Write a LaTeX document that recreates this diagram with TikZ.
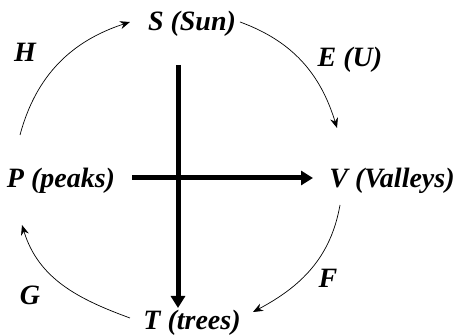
\documentclass[tikz,border=0pt]{standalone}
\usepackage{fontspec}
\setmainfont{Liberation Serif}
\usetikzlibrary{arrows.meta}
\tikzset{
	lbl/.style={font=\fontsize{28}{30}\selectfont\bfseries\itshape, inner sep=0pt},
	cycle/.style={-{Stealth[length=10pt,width=8pt]}, line width=.7pt},
	bold/.style={-{Triangle[length=12pt,width=14pt]}, line width=5pt}
}
\begin{document}
\begin{tikzpicture}[x=1pt,y=1pt]
	\useasboundingbox (0,0) rectangle (456,336);
	\node[lbl] (sun) at (192,312){S (Sun)};
	\node[lbl] (peaks) at (61,155){P (peaks)};
	\node[lbl] (valleys) at (392,155){V (Valleys)};
	\node[lbl] (trees) at (192,13){T (trees)};
	
	\node[lbl] (h) at (25,284){H};
	\node[lbl] (e) at (350,276){E (U)};
	\node[lbl] (f) at (328,58){F};
	\node[lbl] (g) at (30,41){G};
	
	\draw[cycle] ([shift={(-41,46)}]peaks.center) to[out=75,in=198] ([shift={(-62,2)}]sun.center);
	\draw[cycle] ([shift={(48,2)}]sun.center) to[out=-20,in=107] ([shift={(-55,53)}]valleys.center);
	\draw[cycle] ([shift={(-52,-24)}]valleys.center) to[out=260,in=28] ([shift={(61,11)}]trees.center);
	\draw[cycle] ([shift={(-62,5)}]trees.center) to[out=160,in=-73] ([shift={(-39,-44)}]peaks.center);
	
	\draw[bold] ([shift={(-14,-41)}]sun.center) -- ([shift={(-14,15)}]trees.center);
	\draw[bold] ([shift={(71,3)}]peaks.center) -- ([shift={(-79,3)}]valleys.center);
\end{tikzpicture}
\end{document}
